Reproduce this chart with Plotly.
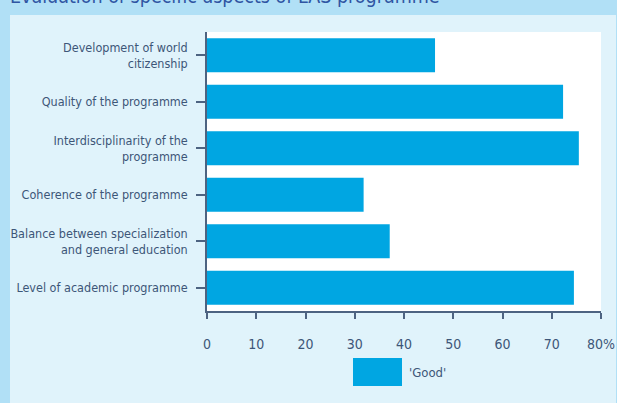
import plotly.graph_objects as go

categories = [
    "Development of world<br>citizenship",
    "Quality of the programme",
    "Interdisciplinarity of the<br>programme",
    "Coherence of the programme",
    "Balance between specialization<br>and general education",
    "Level of academic programme",
]
good_values = [46.3, 72.3, 75.5, 31.8, 37.1, 74.5]
x_tick_vals = [0, 10, 20, 30, 40, 50, 60, 70, 80]
x_tick_text = ["0", "10", "20", "30", "40", "50", "60", "70", "80%"]
series_name = "'Good'"
title_text = "Evaluation of specific aspects of LAS programme"

BAR = "#00a6e2"
TXT = "#3d5678"
AX = "#4d6381"
OUTER = "#b1e0f6"
PANEL = "#e0f3fb"
FONT = "DejaVu Sans Condensed, Liberation Sans Narrow, sans-serif"

W, H = 617, 403
L, R, T, B = 207, 16, 32, 92
pw, ph = W - L - R, H - T - B


def px_x(p):
    return (p - L) / pw


def px_y(p):
    return (H - B - p) / ph


fig = go.Figure(
    go.Bar(
        y=categories,
        x=good_values,
        orientation="h",
        marker=dict(color=BAR, line=dict(width=0)),
        name=series_name,
        showlegend=False,
    )
)

shapes = [
    dict(type="rect", xref="paper", yref="paper", x0=px_x(-5), x1=px_x(W + 5),
         y0=px_y(15), y1=px_y(-5), fillcolor=OUTER, line=dict(width=0), layer="below"),
    dict(type="rect", xref="paper", yref="paper", x0=px_x(-5), x1=px_x(10),
         y0=px_y(H + 5), y1=px_y(-5), fillcolor=OUTER, line=dict(width=0), layer="below"),
    dict(type="rect", xref="paper", yref="paper", x0=px_x(616), x1=px_x(W + 5),
         y0=px_y(H + 5), y1=px_y(-5), fillcolor=OUTER, line=dict(width=0), layer="below"),
    dict(type="rect", xref="paper", yref="paper", x0=px_x(353), x1=px_x(402),
         y0=px_y(386), y1=px_y(358), fillcolor=BAR, line=dict(width=0)),
]

annotations = [
    dict(text=title_text, xref="paper", yref="paper", x=px_x(8), y=px_y(10),
         xanchor="left", yanchor="bottom", showarrow=False,
         font=dict(family="DejaVu Sans Condensed, sans-serif", size=19.5, color="#2f55a3")),
    dict(text=series_name, xref="paper", yref="paper", x=px_x(407), y=px_y(372),
         xanchor="left", yanchor="middle", showarrow=False,
         font=dict(family=FONT, size=13, color=TXT)),
]

fig.update_layout(
    width=W, height=H,
    margin=dict(l=L, r=R, t=T, b=B, pad=0, autoexpand=False),
    paper_bgcolor=PANEL,
    plot_bgcolor="white",
    bargap=0.27,
    font=dict(family=FONT, size=12.5, color=TXT),
    shapes=shapes,
    annotations=annotations,
    xaxis=dict(
        range=[0, 80], tickvals=x_tick_vals, ticktext=x_tick_text,
        showgrid=False, zeroline=False, showline=True, linecolor=AX, linewidth=1.5,
        ticks="outside", ticklen=6, tickcolor=AX, tickwidth=1.5, automargin=False,
        ticklabelstandoff=13, tickfont=dict(size=14, color=TXT),
    ),
    yaxis=dict(
        autorange="reversed", showgrid=False, zeroline=False, automargin=False,
        showline=True, linecolor=AX, linewidth=1.5,
        ticks="outside", ticklen=9, tickcolor=AX, tickwidth=1.5,
        ticklabelstandoff=6,
    ),
)

fig.write_html(
    "out.html",
    config={"displayModeBar": False},
    post_script="document.body.style.margin='0';document.body.style.overflow='hidden';",
)
